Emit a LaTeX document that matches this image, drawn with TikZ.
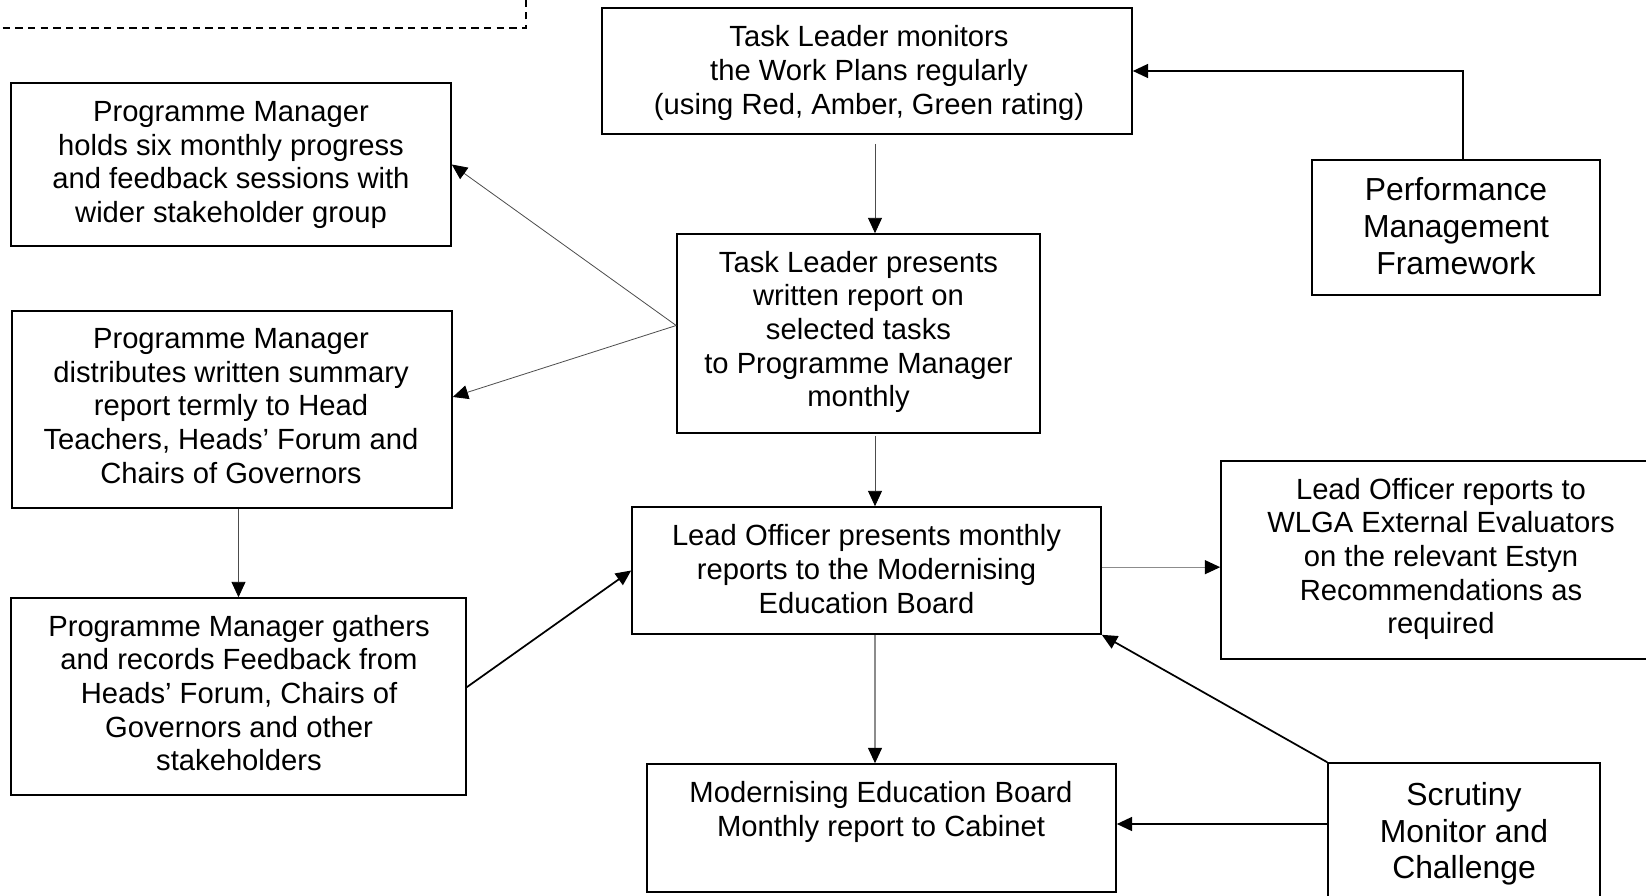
\documentclass[tikz,border=0pt]{standalone}
\usepackage{fontspec}
\setmainfont{Liberation Sans}
\usetikzlibrary{arrows.meta,fit}
\begin{document}
\begin{tikzpicture}[x=0.75pt,y=-0.75pt,
  box/.style={draw=black,line width=1.2pt,inner sep=0pt,fill=white},
  txt/.style={align=center,font=\fontsize{21.9}{25.2}\selectfont,inner sep=0pt},
  bigtxt/.style={align=center,font=\fontsize{23.9}{27.5}\selectfont,inner sep=0pt},
  tip/.style={-{Triangle[length=11.5pt,width=10.5pt,color=black]}},
  thinln/.style={tip,draw=black!70,line width=0.6pt},
  grayln/.style={tip,draw=black!45,line width=0.8pt},
  thickln/.style={tip,draw=black,line width=1.3pt}]
\clip (0,0) rectangle (1646,896);
\fill[white] (0,0) rectangle (1646,896);
% dashed box fragment
\draw[line width=1.2pt,dash pattern=on 5.5pt off 4pt] (-10,28) -- (526,28) -- (526,-10);
% boxes
\node[box,fit={(602,8) (1132,134)}] (tl1) {};
\node[box,fit={(11,83) (451,246)}] (pm1) {};
\node[box,fit={(12,311) (452,508)}] (pm2) {};
\node[box,fit={(11,598) (466,795)}] (pm3) {};
\node[box,fit={(677,234) (1040,433)}] (tl2) {};
\node[box,fit={(632,507) (1101,634)}] (lop) {};
\node[box,fit={(1221,461) (1662,659)}] (lor) {};
\node[box,fit={(647,764) (1116,892)}] (cab) {};
\node[box,fit={(1312,160) (1600,295)}] (perf) {};
\node[box,fit={(1328,763) (1600,905)}] (scr) {};
% texts
\node[txt] (tl1t) at (869,73) {Task Leader monitors\\the Work Plans regularly\\(using Red, Amber, Green rating)};
\node[txt] (pm1t) at (231,165) {Programme Manager\\holds six monthly progress\\and feedback sessions with\\wider stakeholder group};
\node[txt] (pm2t) at (231,406) {Programme Manager\\distributes written summary\\report termly to Head\\Teachers, Heads’ Forum and\\Chairs of Governors};
\node[txt] (pm3t) at (239,693) {Programme Manager gathers\\and records Feedback from\\Heads’ Forum, Chairs of\\Governors and other\\stakeholders};
\node[txt] (tl2t) at (858.5,332) {Task Leader presents\\written report on\\selected tasks\\to Programme Manager\\monthly};
\node[txt] (lopt) at (866.5,569) {Lead Officer presents monthly\\reports to the Modernising\\Education Board};
\node[txt] (lort) at (1441,559) {Lead Officer reports to\\WLGA External Evaluators\\on the relevant Estyn\\Recommendations as\\required};
\node[txt] (cabt) at (881,812) {Modernising Education Board\\Monthly report to Cabinet};
\node[bigtxt] (perft) at (1456,226) {Performance\\Management\\Framework};
\node[bigtxt] (scrt) at (1464,834) {Scrutiny\\Monitor and\\Challenge};
% helper coordinates
\coordinate (cx) at (875,0);
\coordinate (cy) at (0,824);
% connectors
\draw[thickln] ([xshift=5pt]perf.north) |- (tl1.east);
\draw[thinln,shorten <=6.75pt] (tl1.south -| cx) -- (tl2.north -| cx);
\draw[thinln] ([yshift=6pt]tl2.west) -- (pm1.east);
\draw[thinln] ([yshift=6pt]tl2.west) -- ([yshift=9.4pt]pm2.east);
\draw[thinln,shorten <=1.5pt] (tl2.south -| cx) -- (lop.north -| cx);
\draw[thinln] (pm2.south -| pm3.north) -- (pm3.north);
\draw[thickln] ([yshift=7pt]pm3.east) -- (lop.west);
\draw[grayln] ([yshift=2.5pt]lop.east) -- ([yshift=2.5pt]lop.east -| lor.west);
\draw[grayln] (lop.south -| cx) -- (cab.north -| cx);
\draw[thickln] (scr.north west) -- (lop.south east);
\draw[thickln] (scr.west |- cy) -- (cab.east |- cy);
\end{tikzpicture}
\end{document}
